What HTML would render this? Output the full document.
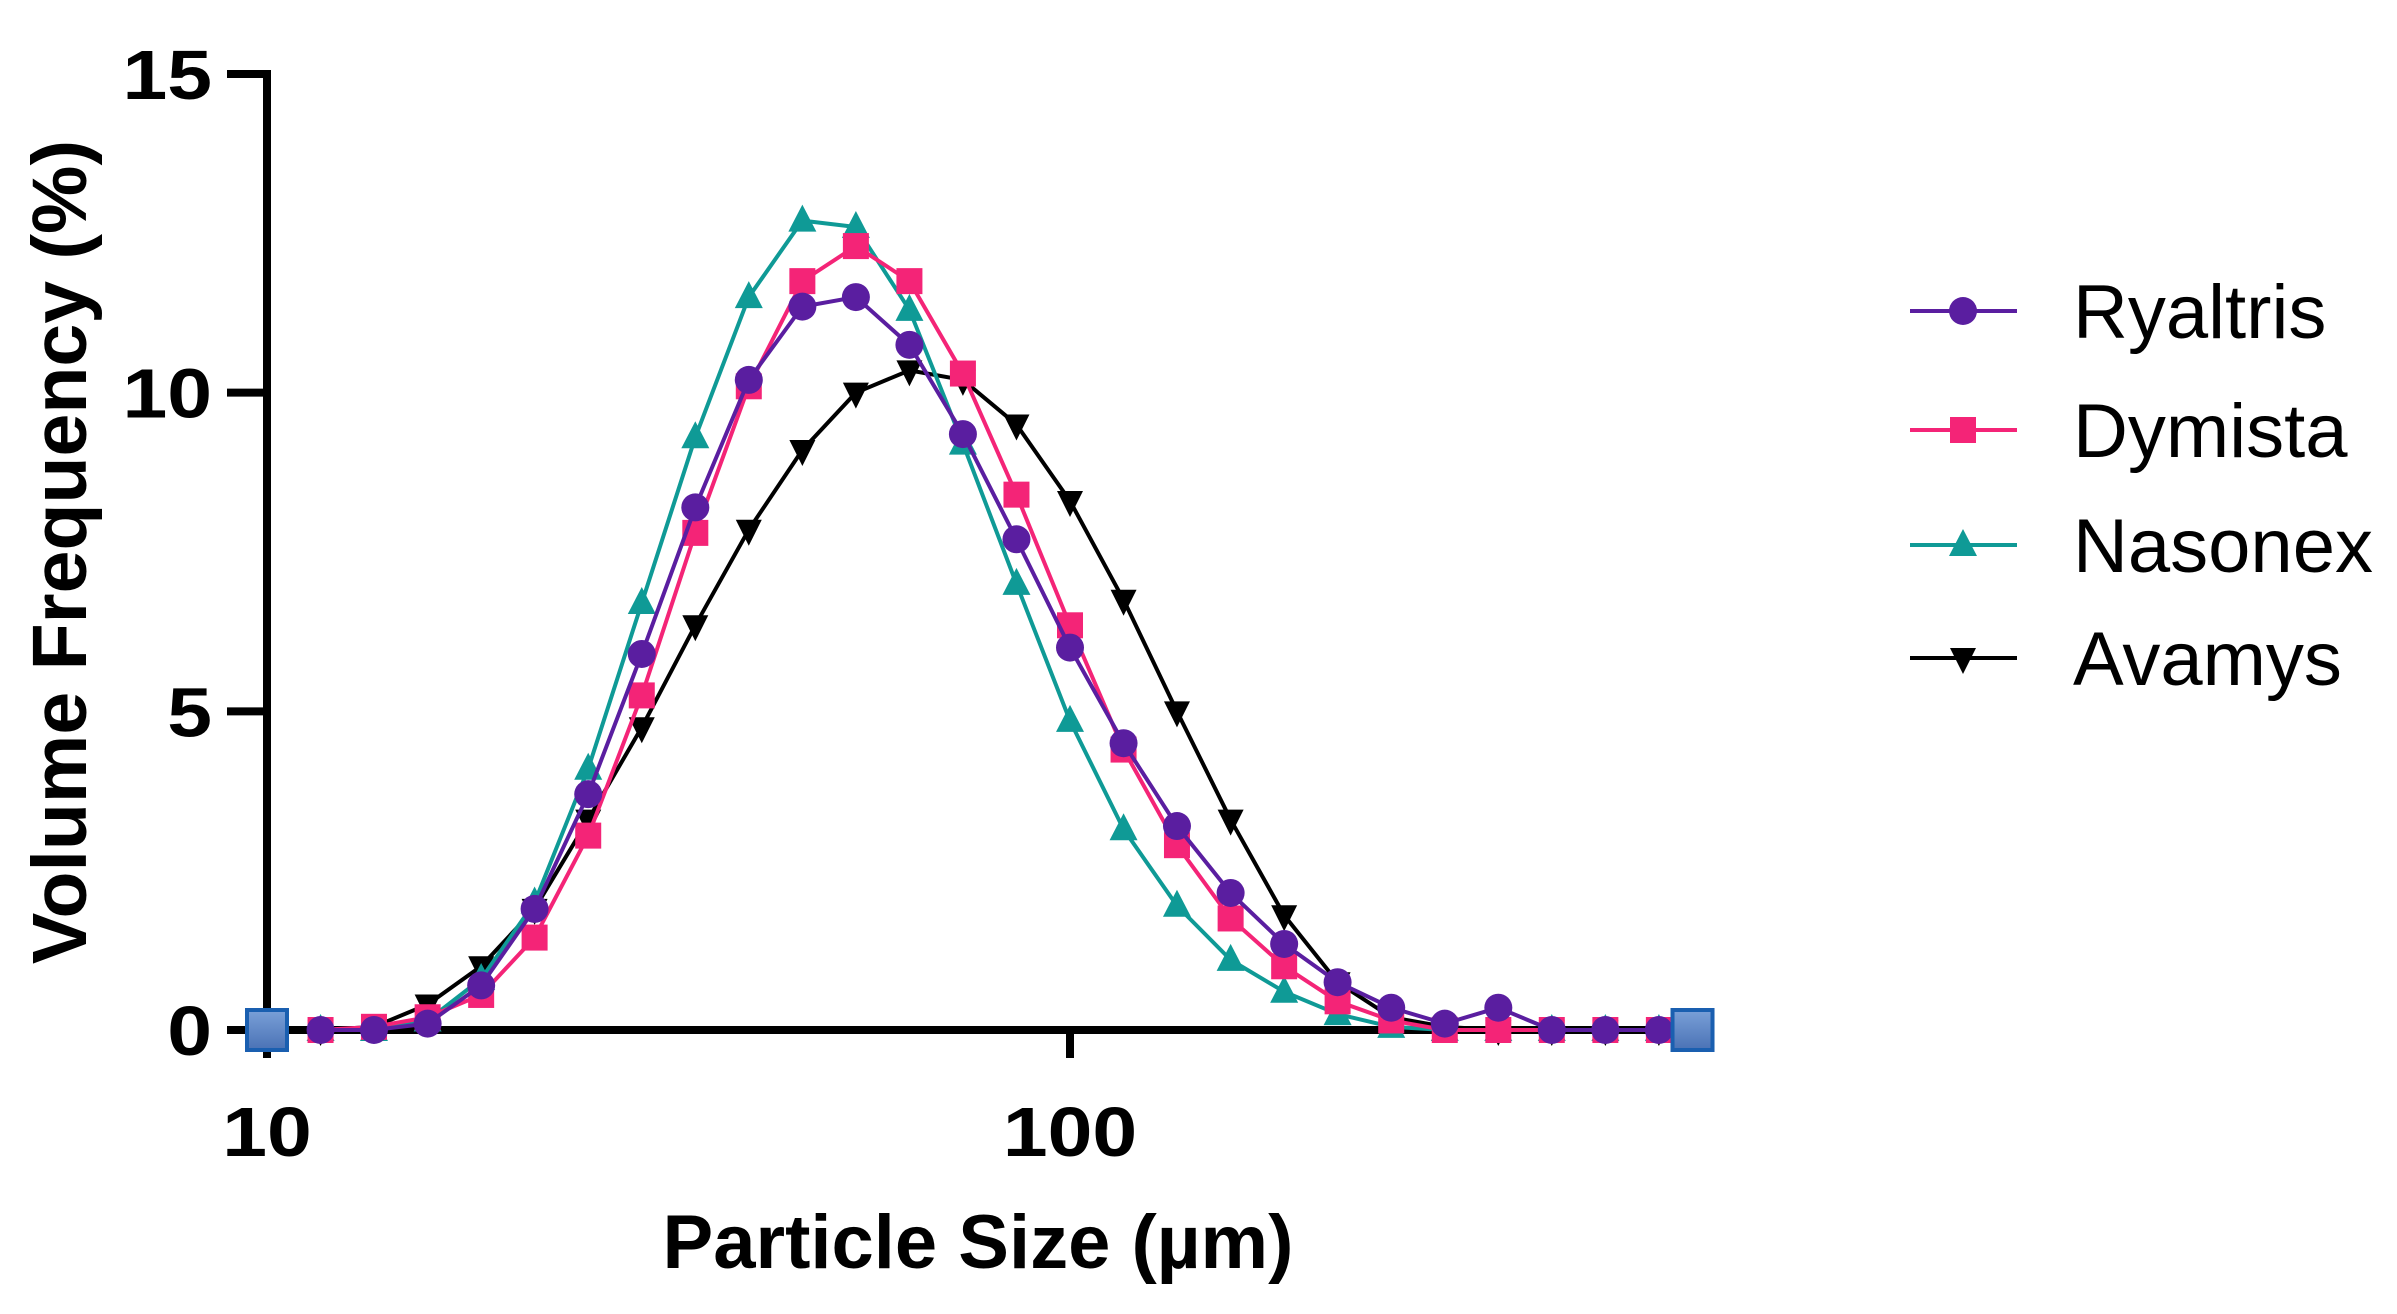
<!DOCTYPE html>
<html><head><meta charset="utf-8"><style>
html,body{margin:0;padding:0;background:#fff;}
svg{display:block;font-family:"Liberation Sans",Arial,sans-serif;}
</style></head><body>
<svg id="chart" width="2397" height="1314" viewBox="0 0 2397 1314" xmlns="http://www.w3.org/2000/svg">
<g id="axes"></g>
<g id="series"></g>
<g id="legend"></g>
</svg>
<script>
const sizes = [11.66,13.59,15.85,18.48,21.54,25.12,29.29,34.15,39.81,46.42,54.12,63.1,73.56,85.77,100,116.6,135.9,158.5,184.8,215.4,251.2,292.9,341.5,398.1,464.2,541.2];
const ryaltris = [0,0,0.1,0.7,1.9,3.7,5.9,8.2,10.2,11.35,11.5,10.75,9.35,7.7,6.0,4.5,3.2,2.15,1.35,0.75,0.35,0.1,0.35,0,0,0];
const dymista = [0,0.05,0.2,0.55,1.45,3.05,5.25,7.8,10.1,11.75,12.3,11.75,10.3,8.4,6.35,4.4,2.9,1.75,1.0,0.45,0.15,0,0,0,0,0];
const nasonex = [0,0,0.15,0.8,2.0,4.1,6.7,9.3,11.5,12.7,12.6,11.3,9.2,7.0,4.85,3.15,1.95,1.1,0.6,0.25,0.05,0,0,0,0,0];
const avamys = [0,0.05,0.4,1.0,1.9,3.3,4.75,6.35,7.85,9.1,10.0,10.35,10.2,9.5,8.3,6.75,5.0,3.3,1.8,0.75,0.2,0.05,0,0,0,0];
const yTicks = [0,5,10,15];
const xTicks = [10,100];
const xMin = 10, xMax = 596;
const NS = "http://www.w3.org/2000/svg";
const X0 = 267, Y0 = 1030, YT = 74, DEC = 803;
function xs(v){ return X0 + (Math.log10(v) - 1) * DEC; }
function ys(v){ return Y0 - v / 15 * (Y0 - YT); }
function mk(tag, attrs, parent){ const e = document.createElementNS(NS, tag); for (const k in attrs) e.setAttribute(k, attrs[k]); parent.appendChild(e); return e; }
const axes = document.getElementById('axes');
const series = document.getElementById('series');
const legend = document.getElementById('legend');

let e;
e = mk('line', {x1:X0, y1:YT-4, x2:X0, y2:Y0+28, stroke:'#000','stroke-width':8}, axes);


e = mk('line', {x1:X0-4, y1:Y0, x2:xs(xMax), y2:Y0, stroke:'#000','stroke-width':8}, axes);


yTicks.forEach(t => {
  const y = ys(t);
  let l = mk('line', {x1:X0-40, y1:y, x2:X0, y2:y, stroke:'#000','stroke-width':8}, axes);
  
  
  let tx = mk('text', {x:X0-55, y:y+25, 'text-anchor':'end', 'font-size':70, 'font-weight':'bold', transform:`translate(${X0-55},0) scale(1.15,1) translate(${-(X0-55)},0)`}, axes);
  tx.textContent = t;
  
  
});
xTicks.forEach(t => {
  const x = xs(t);
  let l = mk('line', {x1:x, y1:Y0, x2:x, y2:Y0+28, stroke:'#000','stroke-width':8}, axes);
  
  
  let tx = mk('text', {x:x, y:1156, 'text-anchor':'middle', 'font-size':70, 'font-weight':'bold', transform:`translate(${x},0) scale(1.15,1) translate(${-x},0)`}, axes);
  tx.textContent = t;
  
  
});
e = mk('text', {x:978, y:1268, 'text-anchor':'middle', 'font-size':76, 'font-weight':'bold'}, axes);
e.textContent = 'Particle Size (µm)';


e = mk('text', {x:0, y:0, 'text-anchor':'middle', 'font-size':77, 'font-weight':'bold', transform:'translate(86,552) rotate(-90)'}, axes);
e.textContent = 'Volume Frequency (%)';



function marker(type, x, y, color, parent){
  let m;
  if (type === 'circle') m = mk('circle', {cx:x, cy:y, r:14, fill:color}, parent);
  else if (type === 'square') m = mk('rect', {x:x-13, y:y-13, width:26, height:26, fill:color}, parent);
  else if (type === 'up') m = mk('polygon', {points:`${x},${y-16} ${x-14},${y+11} ${x+14},${y+11}`, fill:color}, parent);
  else m = mk('polygon', {points:`${x},${y+16} ${x-13},${y-10} ${x+13},${y-10}`, fill:color}, parent);
  return m;
}
const defs = [
  {name:'Avamys', vals:avamys, color:'#000000', m:'down'},
  {name:'Nasonex', vals:nasonex, color:'#0f9a96', m:'up'},
  {name:'Dymista', vals:dymista, color:'#f42477', m:'square'},
  {name:'Ryaltris', vals:ryaltris, color:'#5a1ea0', m:'circle'}
];
defs.forEach(d => {
  const g = mk('g', {}, series);
  
  
  const pts = sizes.map((s,i) => [xs(s), ys(d.vals[i])]);
  const pl = mk('polyline', {points: pts.map(p => p.join(',')).join(' '), fill:'none', stroke:d.color, 'stroke-width':4, 'stroke-linejoin':'round'}, g);
  
  
  pts.forEach(p => {
    const m = marker(d.m, p[0], p[1], d.color, g);
    
    
  });
});
const grad = mk('linearGradient', {id:'bg', x1:0, y1:0, x2:0, y2:1}, mk('defs', {}, series));
mk('stop', {offset:0, 'stop-color':'#7aa0d8'}, grad);
mk('stop', {offset:1, 'stop-color':'#4a72b5'}, grad);
[xMin, xMax].forEach(v => {
  const r = mk('rect', {x:xs(v)-20, y:Y0-20, width:40, height:40, fill:'url(#bg)', stroke:'#1a5fb0', 'stroke-width':4}, series);
  
  
});
const legY = [311, 430, 545, 658];
[defs[3], defs[2], defs[1], defs[0]].forEach((d,i) => {
  const g = mk('g', {}, legend);
  
  
  mk('line', {x1:1910, y1:legY[i], x2:2017, y2:legY[i], stroke:d.color, 'stroke-width':4}, g);
  marker(d.m, 1963, legY[i], d.color, g);
  const t = mk('text', {x:2073, y:legY[i]+27, 'font-size':76}, g);
  t.textContent = d.name;
});
</script>
</body></html>
